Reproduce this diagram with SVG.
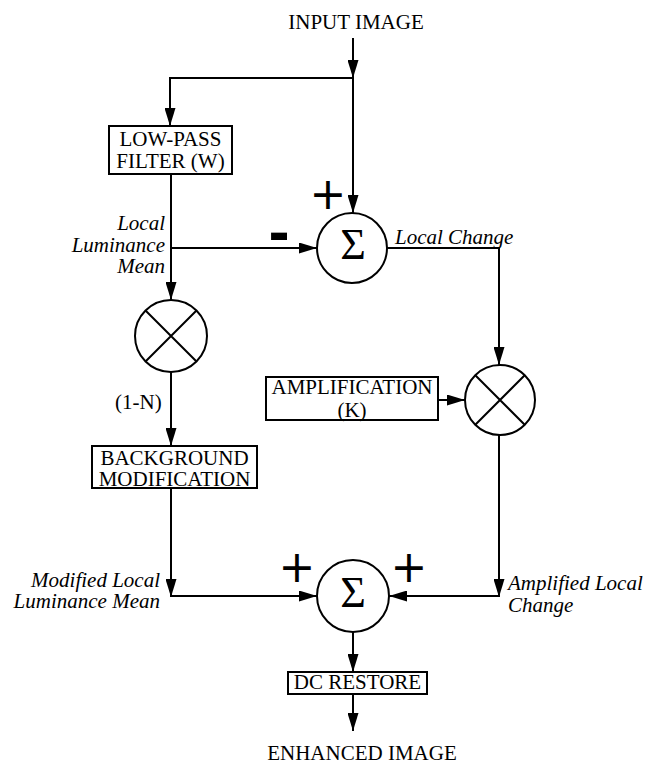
<svg xmlns="http://www.w3.org/2000/svg" width="649" height="765" viewBox="0 0 649 765">
<defs>
<marker id="ah" markerWidth="18" markerHeight="11" refX="18" refY="5.5" orient="auto" markerUnits="userSpaceOnUse">
<path d="M0,0 L18,5.5 L0,11 Z" fill="#000"/>
</marker>
<style>
.ln{fill:none;stroke:#000;stroke-width:2}
.bx{fill:#fff;stroke:#000;stroke-width:2}
.t{font-family:"Liberation Serif","Times New Roman",serif;font-size:21px;fill:#000}
.i{font-family:"Liberation Serif","Times New Roman",serif;font-size:21px;font-style:italic;fill:#000}
.s{font-family:"Liberation Serif","Times New Roman",serif;font-size:44px;fill:#000;text-anchor:middle}
.p{font-family:"DejaVu Sans",sans-serif;font-size:44px;fill:#000;text-anchor:middle}
.m{text-anchor:middle}
.e{text-anchor:end}
</style>
</defs>
<rect width="649" height="765" fill="#fff"/>
<g id="connectors">
<path class="ln" d="M353,38 V78" marker-end="url(#ah)"/>
<path class="ln" d="M353,78 H170 V126" marker-end="url(#ah)"/>
<path class="ln" d="M353,78 V213" marker-end="url(#ah)"/>
<path class="ln" d="M171,174 V300" marker-end="url(#ah)"/>
<path class="ln" d="M171,248 H317" marker-end="url(#ah)"/>
<path class="ln" d="M387,248 H499 V365" marker-end="url(#ah)"/>
<path class="ln" d="M171,372 V446" marker-end="url(#ah)"/>
<path class="ln" d="M438,400 H465" marker-end="url(#ah)"/>
<path class="ln" d="M171,488 V597" marker-end="url(#ah)"/>
<path class="ln" d="M170,596 H317" marker-end="url(#ah)"/>
<path class="ln" d="M499,435 V597" marker-end="url(#ah)"/>
<path class="ln" d="M500,596 H389" marker-end="url(#ah)"/>
<path class="ln" d="M353,632 V672" marker-end="url(#ah)"/>
<path class="ln" d="M353,694 V731" marker-end="url(#ah)"/>
</g>
<g id="input"><text class="t m" x="356" y="29">INPUT IMAGE</text></g>
<g id="lpf">
<rect class="bx" x="109" y="126" width="123" height="48"/>
<text class="t m" x="170.5" y="146">LOW-PASS</text>
<text class="t m" x="170.5" y="168">FILTER (W)</text>
</g>
<g id="lbl-local-mean">
<text class="i e" x="165" y="230">Local</text>
<text class="i e" x="165" y="252">Luminance</text>
<text class="i e" x="165" y="273">Mean</text>
</g>
<g id="sum1">
<circle class="bx" cx="352" cy="248" r="35"/>
<text class="s" x="353" y="259">Σ</text>
<text class="p" x="328" y="209">+</text>
<text class="p" x="279" y="251" style="font-weight:bold;font-size:52px">-</text>
</g>
<g id="lbl-local-change"><text class="i" x="395" y="244">Local Change</text></g>
<g id="mult1">
<circle class="bx" cx="171" cy="336" r="36"/>
<path class="ln" d="M145.5,310.5 L196.5,361.5 M196.5,310.5 L145.5,361.5"/>
</g>
<g id="lbl-1n"><text class="t" x="115" y="409">(1-N)</text></g>
<g id="bgmod">
<rect class="bx" x="92" y="446" width="165" height="42"/>
<text class="t m" x="174.5" y="465">BACKGROUND</text>
<text class="t m" x="174.5" y="486">MODIFICATION</text>
</g>
<g id="amp">
<rect class="bx" x="266" y="377" width="172" height="43"/>
<text class="t m" x="352" y="394">AMPLIFICATION</text>
<text class="t m" x="352" y="417">(K)</text>
</g>
<g id="mult2">
<circle class="bx" cx="500" cy="400" r="35"/>
<path class="ln" d="M475.3,375.3 L524.7,424.7 M524.7,375.3 L475.3,424.7"/>
</g>
<g id="lbl-modified">
<text class="i e" x="160" y="587">Modified Local</text>
<text class="i e" x="160" y="608">Luminance Mean</text>
</g>
<g id="lbl-amplified">
<text class="i" x="508" y="590">Amplified Local</text>
<text class="i" x="508" y="612">Change</text>
</g>
<g id="sum2">
<circle class="bx" cx="353" cy="596" r="36"/>
<text class="s" x="353" y="607">Σ</text>
<text class="p" x="297" y="582">+</text>
<text class="p" x="409" y="582">+</text>
</g>
<g id="dc">
<rect class="bx" x="288" y="672" width="139" height="22"/>
<text class="t m" x="357.5" y="689">DC RESTORE</text>
</g>
<g id="output"><text class="t m" x="362" y="760">ENHANCED IMAGE</text></g>
</svg>
